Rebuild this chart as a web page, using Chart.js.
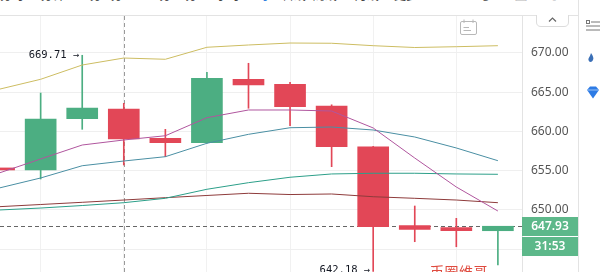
<!DOCTYPE html>
<html>
<head>
<meta charset="utf-8">
<script src="https://cdn.jsdelivr.net/npm/chart.js@4.4.1/dist/chart.umd.min.js"></script>
<style>
  html, body { margin: 0; padding: 0; background: #fff; width: 600px; height: 272px; overflow: hidden; }
  #toolbar { position: absolute; left: 0; top: 0; width: 578px; height: 15px; border-bottom: 1px solid #e3e3e3; overflow: hidden; }
  #toolbar span { position: absolute; top: -14px; font: 12px/17px "Noto Sans CJK SC", sans-serif; color: #444; white-space: nowrap; }
  #toolbar span.on { color: #2f7fe0; }
  #side { position: absolute; left: 578px; top: 0; width: 22px; height: 272px; border-left: 1px solid #e3e3e3; box-sizing: border-box; }
  #wrap { position: absolute; left: 0; top: 16px; width: 578px; height: 256px; }
  #mark { position: absolute; left: 430px; top: 263px; font: 14px/16px "Noto Sans CJK SC", sans-serif; color: #df4a3e; letter-spacing: 0.5px; white-space: nowrap; }
  .ico { position: absolute; }
</style>
</head>
<body>
<div id="toolbar"></div>
<div id="side">
  <svg class="ico" style="left:7px;top:20px" width="14" height="12"><g stroke="#777" stroke-width="1" fill="none"><rect x="0.5" y="0.5" width="3" height="3"/><line x1="5" y1="2" x2="14" y2="2"/><line x1="0" y1="6" x2="14" y2="6"/><line x1="0" y1="10" x2="14" y2="10"/></g></svg>
  <svg class="ico" style="left:8px;top:53px" width="8" height="10"><path d="M4 0 C6 3 7 5 6 7 C5 9.5 2 9.5 1.5 7 C1 5 3 4 4 0Z" fill="#3b6fb6"/></svg>
  <svg class="ico" style="left:6px;top:86px" width="16" height="13"><path d="M2 4 L5 0.5 L11 0.5 L14 4 L8 12.5 Z" fill="#2d7be5"/><path d="M2 4 L14 4" stroke="#9cc4f5" stroke-width="1"/></svg>
</div>
<div id="wrap"><canvas id="c"></canvas></div>
<!-- calendar button and collapse tab on the plot -->
<svg class="ico" style="left:459px;top:19px" width="19" height="17"><g fill="none" stroke="#b8b8b8" stroke-width="1"><rect x="1.5" y="2.5" width="16" height="13" rx="1.5"/><line x1="5" y1="0.5" x2="5" y2="4"/><line x1="14" y1="0.5" x2="14" y2="4"/><line x1="4.5" y1="8.5" x2="10" y2="8.5"/><line x1="4.5" y1="11.5" x2="12" y2="11.5"/></g></svg>
<svg class="ico" style="left:536px;top:15px" width="33" height="12"><path d="M0.5 0 L0.5 7 Q0.5 11.5 5 11.5 L28 11.5 Q32.5 11.5 32.5 7 L32.5 0" fill="#fff" stroke="#dcdcdc"/><path d="M13 6.5 L16.5 3 L20 6.5" fill="none" stroke="#666" stroke-width="1.2"/></svg>
<div id="mark">币圈维哥</div>

<script>
// Candle index along the time axis (bar 0 is partly off the left edge)
const candleIndex = [0, 1, 2, 3, 4, 5, 6, 7, 8, 9, 10, 11, 12];
const openPrices  = [655.36, 655.10, 661.63, 662.87, 659.13, 658.57, 666.65, 666.01, 663.25, 658.06, 648.00, 647.75, 647.36];
const highPrices  = [655.45, 664.90, 669.71, 663.59, 660.28, 667.54, 668.69, 666.27, 663.40, 658.10, 650.51, 648.94, 647.93];
const lowPrices   = [655.05, 653.95, 660.28, 655.73, 656.79, 658.50, 662.96, 660.74, 655.52, 642.18, 645.96, 645.32, 643.00];
const closePrices = [655.10, 661.59, 662.99, 659.04, 658.57, 666.78, 665.92, 663.16, 658.06, 647.88, 647.54, 647.36, 647.93];

// Moving averages
const ma5  = [654.71, 656.50, 658.28, 658.92, 659.46, 661.76, 662.74, 662.74, 662.61, 660.45, 656.62, 652.93, 649.87];
const ma10 = [652.80, 654.08, 655.64, 656.24, 656.79, 658.50, 659.64, 660.48, 660.57, 660.19, 659.30, 657.90, 656.28];
const ma20 = [650.00, 650.25, 650.57, 650.93, 651.49, 652.64, 653.48, 654.17, 654.59, 654.68, 654.68, 654.59, 654.55];
const ma30 = [650.42, 650.70, 650.98, 651.27, 651.57, 651.85, 652.13, 651.97, 652.04, 651.69, 651.49, 651.27, 650.93];
const ma60 = [665.38, 666.65, 668.47, 669.36, 669.20, 670.73, 671.02, 671.27, 671.24, 670.93, 670.70, 670.80, 670.93];

const lastPrice = 647.93;
const countdown = '31:53';
const crosshairIndex = 3;

// Price axis ticks
const priceStep = 5;
const priceMin = 642.102;
const priceMax = 674.713;
const gridIndices = [1, 3, 5, 7, 9, 11];

// Interval buttons in the top toolbar
const intervalLabels = [
  ['分时', 0], ['1分钟', 34], ['3分', 83], ['5分', 104], ['15分', 146], ['30分', 172],
  ['1小时', 209], ['4时', 250, true], ['日线', 282], ['周线', 313], ['月线', 355], ['更多', 394]
];
const tb = document.getElementById('toolbar');
intervalLabels.forEach(([t, x, on]) => {
  const s = document.createElement('span');
  s.textContent = t; s.style.left = x + 'px';
  if (on) s.className = 'on';
  tb.appendChild(s);
});
['⤴', '▢', '⤢'].forEach((t, i) => {
  const s = document.createElement('span');
  s.textContent = t; s.style.left = [483, 515, 553][i] + 'px';
  s.style.color = '#666';
  tb.appendChild(s);
});

const UP = '#4cae82';
const DOWN = '#e24757';
const candleColors = candleIndex.map(i => closePrices[i] >= openPrices[i] ? UP : DOWN);

const pts = arr => candleIndex.map(i => ({ x: i, y: arr[i] }));
const maLine = (arr, color) => ({
  type: 'line', data: pts(arr), borderColor: color, borderWidth: 1,
  pointRadius: 0, tension: 0, order: 0, fill: false
});

const overlay = {
  id: 'overlay',
  beforeDatasetsDraw(chart) {
    const { ctx, chartArea: a, scales: { x, y } } = chart;
    ctx.save();
    ctx.setLineDash([4, 3]);
    ctx.lineWidth = 1;
    // last-price line
    const py = Math.round(y.getPixelForValue(lastPrice)) + 0.5;
    ctx.strokeStyle = '#666';
    ctx.beginPath(); ctx.moveTo(a.left, py); ctx.lineTo(a.right, py); ctx.stroke();
    // crosshair
    const cx = Math.round(x.getPixelForValue(crosshairIndex)) + 0.5;
    ctx.strokeStyle = '#9a9a9a';
    ctx.beginPath(); ctx.moveTo(cx, a.top); ctx.lineTo(cx, a.bottom); ctx.stroke();
    ctx.restore();
  },
  afterDatasetsDraw(chart) {
    const { ctx, scales: { x, y } } = chart;
    ctx.save();
    ctx.font = '10.5px "DejaVu Sans Mono", monospace';
    ctx.fillStyle = '#131722';
    ctx.textAlign = 'right';
    ctx.textBaseline = 'middle';
    let hi = 0, lo = 0;
    candleIndex.forEach(i => {
      if (highPrices[i] > highPrices[hi]) hi = i;
      if (lowPrices[i] < lowPrices[lo]) lo = i;
    });
    ctx.fillText(highPrices[hi].toFixed(2) + ' →', x.getPixelForValue(hi) - 3, y.getPixelForValue(highPrices[hi]));
    ctx.fillText(lowPrices[lo].toFixed(2) + ' →', x.getPixelForValue(lo) - 3, y.getPixelForValue(lowPrices[lo]) - 1);
    ctx.restore();
  },
  afterDraw(chart) {
    const { ctx, chartArea: a, scales: { y } } = chart;
    const c = y.getPixelForValue(lastPrice);
    const left = a.right, w = chart.width - a.right;
    ctx.save();
    ctx.fillStyle = '#5db88a';
    ctx.fillRect(left, Math.round(c - 9.5), w, 19);
    ctx.fillRect(left, Math.round(c + 10.5), w, 19);
    ctx.fillStyle = '#fff';
    ctx.font = '600 12px "Noto Sans", sans-serif';
    ctx.textAlign = 'center';
    ctx.textBaseline = 'middle';
    ctx.fillText(lastPrice.toFixed(2), left + w / 2, Math.round(c - 9.5) + 10);
    ctx.fillText(countdown, left + w / 2, Math.round(c + 10.5) + 10);
    ctx.restore();
  }
};

new Chart(document.getElementById('c'), {
  data: {
    datasets: [
      maLine(ma60, '#cdbd62'),
      maLine(ma5, '#b0569e'),
      maLine(ma10, '#4a8fa3'),
      maLine(ma20, '#2c9f89'),
      maLine(ma30, '#8e3b3b'),
      {
        type: 'bar', order: 2, grouped: false,
        data: candleIndex.map(i => ({ x: i, y: [lowPrices[i], highPrices[i]] })),
        backgroundColor: candleColors, barThickness: 1, borderWidth: 0
      },
      {
        type: 'bar', order: 1, grouped: false,
        data: candleIndex.map(i => ({ x: i, y: [openPrices[i], closePrices[i]] })),
        backgroundColor: candleColors, barThickness: 31, borderWidth: 0, minBarLength: 2
      }
    ]
  },
  options: {
    responsive: true, maintainAspectRatio: false, animation: false,
    layout: { padding: 0 },
    plugins: { legend: { display: false }, tooltip: { enabled: false } },
    scales: {
      x: {
        type: 'linear', min: 0.022, max: 12.58, offset: false,
        ticks: { display: false },
        grid: { color: '#f1f1f1', drawTicks: false, offset: false },
        border: { display: false },
        afterBuildTicks: s => { s.ticks = gridIndices.map(v => ({ value: v })); },
        afterFit: s => { s.height = 0; }
      },
      y: {
        type: 'linear', position: 'right', min: priceMin, max: priceMax,
        ticks: {
          stepSize: priceStep, includeBounds: false, padding: 9,
          color: '#555', font: { family: '"Noto Sans", sans-serif', size: 12 },
          callback: v => Number(v).toFixed(2)
        },
        grid: { color: '#efefef', drawTicks: false },
        border: { color: '#e3e3e3' },
        afterFit: s => { s.width = 56; s.paddingTop = 0; s.paddingBottom = 0; }
      }
    }
  },
  plugins: [overlay]
});
</script>
</body>
</html>
